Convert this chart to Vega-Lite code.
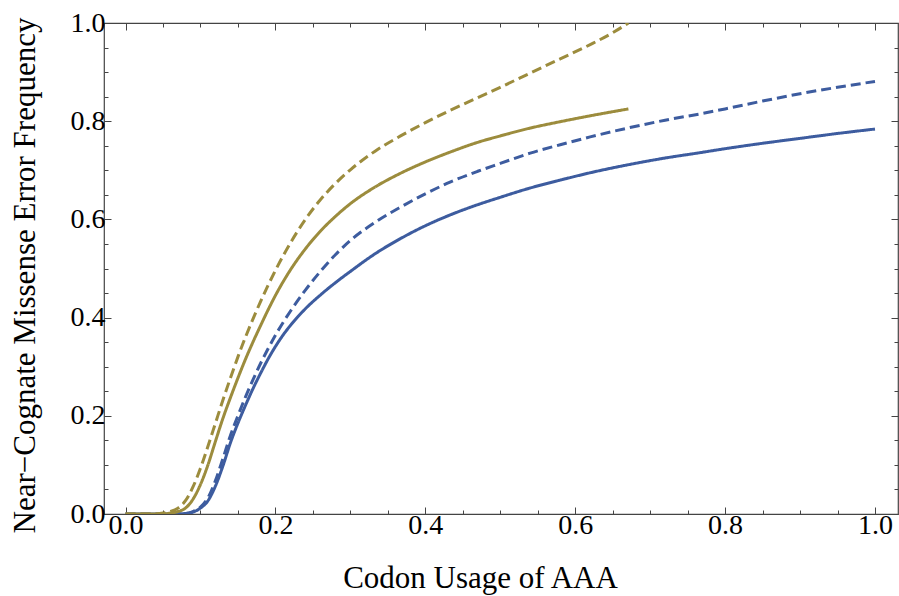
{
  "$schema": "https://vega.github.io/schema/vega-lite/v6.json",
  "width": 794,
  "height": 491,
  "autosize": {"type": "none"},
  "padding": {"left": 104, "top": 23, "right": 1, "bottom": 82},
  "background": "white",
  "config": {
    "view": {"stroke": "#444444", "strokeWidth": 1.2},
    "axis": {
      "labelFont": "Liberation Serif",
      "titleFont": "Liberation Serif",
      "labelColor": "#000000",
      "titleColor": "#000000",
      "titleFontWeight": "normal",
      "labelFontSize": 28,
      "titleFontSize": 31,
      "tickColor": "#444444",
      "tickWidth": 1,
      "domain": false,
      "grid": false
    }
  },
  "datasets": {
    "curves": [
      {"x": 0, "y": 0, "series": "1", "fit": "full"},
      {"x": 0.05, "y": 0, "series": "1", "fit": "full"},
      {"x": 0.08, "y": 0.001, "series": "1", "fit": "full"},
      {"x": 0.09, "y": 0.004, "series": "1", "fit": "full"},
      {"x": 0.10, "y": 0.012, "series": "1", "fit": "full"},
      {"x": 0.11, "y": 0.027, "series": "1", "fit": "full"},
      {"x": 0.12, "y": 0.057, "series": "1", "fit": "full"},
      {"x": 0.13, "y": 0.098, "series": "1", "fit": "full"},
      {"x": 0.14, "y": 0.145, "series": "1", "fit": "full"},
      {"x": 0.15, "y": 0.185, "series": "1", "fit": "full"},
      {"x": 0.16, "y": 0.221, "series": "1", "fit": "full"},
      {"x": 0.17, "y": 0.255, "series": "1", "fit": "full"},
      {"x": 0.18, "y": 0.286, "series": "1", "fit": "full"},
      {"x": 0.19, "y": 0.315, "series": "1", "fit": "full"},
      {"x": 0.20, "y": 0.341, "series": "1", "fit": "full"},
      {"x": 0.21, "y": 0.364, "series": "1", "fit": "full"},
      {"x": 0.22, "y": 0.384, "series": "1", "fit": "full"},
      {"x": 0.24, "y": 0.418, "series": "1", "fit": "full"},
      {"x": 0.26, "y": 0.446, "series": "1", "fit": "full"},
      {"x": 0.28, "y": 0.471, "series": "1", "fit": "full"},
      {"x": 0.30, "y": 0.494, "series": "1", "fit": "full"},
      {"x": 0.333, "y": 0.53, "series": "1", "fit": "full"},
      {"x": 0.367, "y": 0.561, "series": "1", "fit": "full"},
      {"x": 0.40, "y": 0.587, "series": "1", "fit": "full"},
      {"x": 0.433, "y": 0.609, "series": "1", "fit": "full"},
      {"x": 0.47, "y": 0.63, "series": "1", "fit": "full"},
      {"x": 0.50, "y": 0.645, "series": "1", "fit": "full"},
      {"x": 0.54, "y": 0.664, "series": "1", "fit": "full"},
      {"x": 0.58, "y": 0.68, "series": "1", "fit": "full"},
      {"x": 0.62, "y": 0.695, "series": "1", "fit": "full"},
      {"x": 0.673, "y": 0.712, "series": "1", "fit": "full"},
      {"x": 0.72, "y": 0.725, "series": "1", "fit": "full"},
      {"x": 0.767, "y": 0.736, "series": "1", "fit": "full"},
      {"x": 0.80, "y": 0.744, "series": "1", "fit": "full"},
      {"x": 0.85, "y": 0.755, "series": "1", "fit": "full"},
      {"x": 0.90, "y": 0.765, "series": "1", "fit": "full"},
      {"x": 0.95, "y": 0.775, "series": "1", "fit": "full"},
      {"x": 1.0, "y": 0.784, "series": "1", "fit": "full"},

      {"x": 0, "y": 0, "series": "1", "fit": "approx"},
      {"x": 0.05, "y": 0, "series": "1", "fit": "approx"},
      {"x": 0.08, "y": 0.001, "series": "1", "fit": "approx"},
      {"x": 0.09, "y": 0.005, "series": "1", "fit": "approx"},
      {"x": 0.10, "y": 0.014, "series": "1", "fit": "approx"},
      {"x": 0.11, "y": 0.033, "series": "1", "fit": "approx"},
      {"x": 0.12, "y": 0.068, "series": "1", "fit": "approx"},
      {"x": 0.13, "y": 0.113, "series": "1", "fit": "approx"},
      {"x": 0.14, "y": 0.16, "series": "1", "fit": "approx"},
      {"x": 0.15, "y": 0.2, "series": "1", "fit": "approx"},
      {"x": 0.16, "y": 0.238, "series": "1", "fit": "approx"},
      {"x": 0.17, "y": 0.273, "series": "1", "fit": "approx"},
      {"x": 0.18, "y": 0.306, "series": "1", "fit": "approx"},
      {"x": 0.19, "y": 0.336, "series": "1", "fit": "approx"},
      {"x": 0.20, "y": 0.364, "series": "1", "fit": "approx"},
      {"x": 0.22, "y": 0.413, "series": "1", "fit": "approx"},
      {"x": 0.24, "y": 0.456, "series": "1", "fit": "approx"},
      {"x": 0.26, "y": 0.494, "series": "1", "fit": "approx"},
      {"x": 0.28, "y": 0.528, "series": "1", "fit": "approx"},
      {"x": 0.30, "y": 0.557, "series": "1", "fit": "approx"},
      {"x": 0.333, "y": 0.594, "series": "1", "fit": "approx"},
      {"x": 0.367, "y": 0.625, "series": "1", "fit": "approx"},
      {"x": 0.40, "y": 0.652, "series": "1", "fit": "approx"},
      {"x": 0.433, "y": 0.676, "series": "1", "fit": "approx"},
      {"x": 0.47, "y": 0.698, "series": "1", "fit": "approx"},
      {"x": 0.50, "y": 0.714, "series": "1", "fit": "approx"},
      {"x": 0.54, "y": 0.735, "series": "1", "fit": "approx"},
      {"x": 0.58, "y": 0.752, "series": "1", "fit": "approx"},
      {"x": 0.62, "y": 0.768, "series": "1", "fit": "approx"},
      {"x": 0.673, "y": 0.787, "series": "1", "fit": "approx"},
      {"x": 0.72, "y": 0.802, "series": "1", "fit": "approx"},
      {"x": 0.767, "y": 0.815, "series": "1", "fit": "approx"},
      {"x": 0.80, "y": 0.825, "series": "1", "fit": "approx"},
      {"x": 0.85, "y": 0.841, "series": "1", "fit": "approx"},
      {"x": 0.90, "y": 0.856, "series": "1", "fit": "approx"},
      {"x": 0.95, "y": 0.869, "series": "1", "fit": "approx"},
      {"x": 1.0, "y": 0.881, "series": "1", "fit": "approx"},

      {"x": 0, "y": 0, "series": "2", "fit": "full"},
      {"x": 0.05, "y": 0, "series": "2", "fit": "full"},
      {"x": 0.06, "y": 0.002, "series": "2", "fit": "full"},
      {"x": 0.07, "y": 0.005, "series": "2", "fit": "full"},
      {"x": 0.08, "y": 0.012, "series": "2", "fit": "full"},
      {"x": 0.09, "y": 0.03, "series": "2", "fit": "full"},
      {"x": 0.10, "y": 0.06, "series": "2", "fit": "full"},
      {"x": 0.11, "y": 0.1, "series": "2", "fit": "full"},
      {"x": 0.12, "y": 0.148, "series": "2", "fit": "full"},
      {"x": 0.13, "y": 0.195, "series": "2", "fit": "full"},
      {"x": 0.14, "y": 0.237, "series": "2", "fit": "full"},
      {"x": 0.15, "y": 0.277, "series": "2", "fit": "full"},
      {"x": 0.16, "y": 0.315, "series": "2", "fit": "full"},
      {"x": 0.17, "y": 0.35, "series": "2", "fit": "full"},
      {"x": 0.18, "y": 0.383, "series": "2", "fit": "full"},
      {"x": 0.19, "y": 0.415, "series": "2", "fit": "full"},
      {"x": 0.20, "y": 0.445, "series": "2", "fit": "full"},
      {"x": 0.22, "y": 0.497, "series": "2", "fit": "full"},
      {"x": 0.24, "y": 0.54, "series": "2", "fit": "full"},
      {"x": 0.26, "y": 0.576, "series": "2", "fit": "full"},
      {"x": 0.28, "y": 0.606, "series": "2", "fit": "full"},
      {"x": 0.30, "y": 0.632, "series": "2", "fit": "full"},
      {"x": 0.333, "y": 0.666, "series": "2", "fit": "full"},
      {"x": 0.367, "y": 0.694, "series": "2", "fit": "full"},
      {"x": 0.40, "y": 0.717, "series": "2", "fit": "full"},
      {"x": 0.433, "y": 0.737, "series": "2", "fit": "full"},
      {"x": 0.47, "y": 0.757, "series": "2", "fit": "full"},
      {"x": 0.50, "y": 0.77, "series": "2", "fit": "full"},
      {"x": 0.54, "y": 0.786, "series": "2", "fit": "full"},
      {"x": 0.58, "y": 0.799, "series": "2", "fit": "full"},
      {"x": 0.62, "y": 0.811, "series": "2", "fit": "full"},
      {"x": 0.671, "y": 0.825, "series": "2", "fit": "full"},

      {"x": 0, "y": 0, "series": "2", "fit": "approx"},
      {"x": 0.04, "y": 0, "series": "2", "fit": "approx"},
      {"x": 0.05, "y": 0.002, "series": "2", "fit": "approx"},
      {"x": 0.06, "y": 0.005, "series": "2", "fit": "approx"},
      {"x": 0.07, "y": 0.012, "series": "2", "fit": "approx"},
      {"x": 0.08, "y": 0.027, "series": "2", "fit": "approx"},
      {"x": 0.09, "y": 0.055, "series": "2", "fit": "approx"},
      {"x": 0.10, "y": 0.093, "series": "2", "fit": "approx"},
      {"x": 0.11, "y": 0.138, "series": "2", "fit": "approx"},
      {"x": 0.12, "y": 0.185, "series": "2", "fit": "approx"},
      {"x": 0.13, "y": 0.232, "series": "2", "fit": "approx"},
      {"x": 0.14, "y": 0.277, "series": "2", "fit": "approx"},
      {"x": 0.15, "y": 0.32, "series": "2", "fit": "approx"},
      {"x": 0.16, "y": 0.36, "series": "2", "fit": "approx"},
      {"x": 0.17, "y": 0.397, "series": "2", "fit": "approx"},
      {"x": 0.18, "y": 0.432, "series": "2", "fit": "approx"},
      {"x": 0.19, "y": 0.465, "series": "2", "fit": "approx"},
      {"x": 0.20, "y": 0.496, "series": "2", "fit": "approx"},
      {"x": 0.22, "y": 0.552, "series": "2", "fit": "approx"},
      {"x": 0.24, "y": 0.6, "series": "2", "fit": "approx"},
      {"x": 0.26, "y": 0.64, "series": "2", "fit": "approx"},
      {"x": 0.28, "y": 0.673, "series": "2", "fit": "approx"},
      {"x": 0.30, "y": 0.701, "series": "2", "fit": "approx"},
      {"x": 0.333, "y": 0.739, "series": "2", "fit": "approx"},
      {"x": 0.367, "y": 0.77, "series": "2", "fit": "approx"},
      {"x": 0.40, "y": 0.797, "series": "2", "fit": "approx"},
      {"x": 0.433, "y": 0.822, "series": "2", "fit": "approx"},
      {"x": 0.47, "y": 0.848, "series": "2", "fit": "approx"},
      {"x": 0.50, "y": 0.869, "series": "2", "fit": "approx"},
      {"x": 0.54, "y": 0.898, "series": "2", "fit": "approx"},
      {"x": 0.58, "y": 0.927, "series": "2", "fit": "approx"},
      {"x": 0.62, "y": 0.956, "series": "2", "fit": "approx"},
      {"x": 0.651, "y": 0.981, "series": "2", "fit": "approx"},
      {"x": 0.671, "y": 1.0, "series": "2", "fit": "approx"}
    ]
  },
  "data": {"name": "curves"},
  "layer": [
    {
      "mark": {"type": "line", "strokeWidth": 3, "interpolate": "monotone", "clip": true},
      "encoding": {
        "x": {
          "field": "x", "type": "quantitative",
          "scale": {"domain": [-0.0287, 1.0307], "nice": false, "zero": false},
          "axis": {
            "orient": "bottom",
            "values": [0, 0.2, 0.4, 0.6, 0.8, 1.0],
            "format": ".1f",
            "tickSize": -7,
            "labelFont": "Liberation Serif",
            "labelFontSize": 28,
            "labelPadding": 4,
            "title": "Codon Usage of AAA",
            "titleX": 376,
            "titleY": 73,
            "titleBaseline": "alphabetic",
            "titleAnchor": "middle"
          }
        },
        "y": {
          "field": "y", "type": "quantitative",
          "scale": {"domain": [0, 1], "nice": false},
          "axis": {
            "orient": "left",
            "values": [0, 0.2, 0.4, 0.6, 0.8, 1.0],
            "format": ".1f",
            "tickSize": -7,
            "labelFont": "Liberation Serif",
            "labelFontSize": 28,
            "labelPadding": 6,
            "title": "Near−Cognate Missense Error Frequency",
            "titleX": -70,
            "titleY": 252,
            "titleBaseline": "alphabetic",
            "titleAnchor": "middle"
          }
        },
        "color": {
          "field": "series", "type": "nominal",
          "scale": {"domain": ["1", "2"], "range": ["#3d5c9f", "#9c8c3d"]},
          "legend": null
        },
        "strokeDash": {
          "field": "fit", "type": "nominal",
          "scale": {"domain": ["full", "approx"], "range": [[1, 0], [10, 5]]},
          "legend": null
        }
      }
    },
    {
      "mark": {"type": "point", "opacity": 0},
      "encoding": {
        "x": {
          "field": "x", "type": "quantitative",
          "axis": {
            "orient": "bottom",
            "values": [0.05, 0.1, 0.15, 0.25, 0.3, 0.35, 0.45, 0.5, 0.55, 0.65, 0.7, 0.75, 0.85, 0.9, 0.95],
            "labels": false, "title": null, "tickSize": -4
          }
        },
        "y": {
          "field": "y", "type": "quantitative",
          "axis": {
            "orient": "left",
            "values": [0.05, 0.1, 0.15, 0.25, 0.3, 0.35, 0.45, 0.5, 0.55, 0.65, 0.7, 0.75, 0.85, 0.9, 0.95],
            "labels": false, "title": null, "tickSize": -4
          }
        }
      }
    },
    {
      "mark": {"type": "point", "opacity": 0},
      "encoding": {
        "x": {
          "field": "x", "type": "quantitative",
          "axis": {
            "orient": "top",
            "values": [0, 0.2, 0.4, 0.6, 0.8, 1.0],
            "labels": false, "title": null, "tickSize": -7
          }
        },
        "y": {
          "field": "y", "type": "quantitative",
          "axis": {
            "orient": "right",
            "values": [0, 0.2, 0.4, 0.6, 0.8, 1.0],
            "labels": false, "title": null, "tickSize": -7
          }
        }
      }
    },
    {
      "mark": {"type": "point", "opacity": 0},
      "encoding": {
        "x": {
          "field": "x", "type": "quantitative",
          "axis": {
            "orient": "top",
            "values": [0.05, 0.1, 0.15, 0.25, 0.3, 0.35, 0.45, 0.5, 0.55, 0.65, 0.7, 0.75, 0.85, 0.9, 0.95],
            "labels": false, "title": null, "tickSize": -4
          }
        },
        "y": {
          "field": "y", "type": "quantitative",
          "axis": {
            "orient": "right",
            "values": [0.05, 0.1, 0.15, 0.25, 0.3, 0.35, 0.45, 0.5, 0.55, 0.65, 0.7, 0.75, 0.85, 0.9, 0.95],
            "labels": false, "title": null, "tickSize": -4
          }
        }
      }
    }
  ],
  "resolve": {"axis": {"x": "independent", "y": "independent"}}
}
